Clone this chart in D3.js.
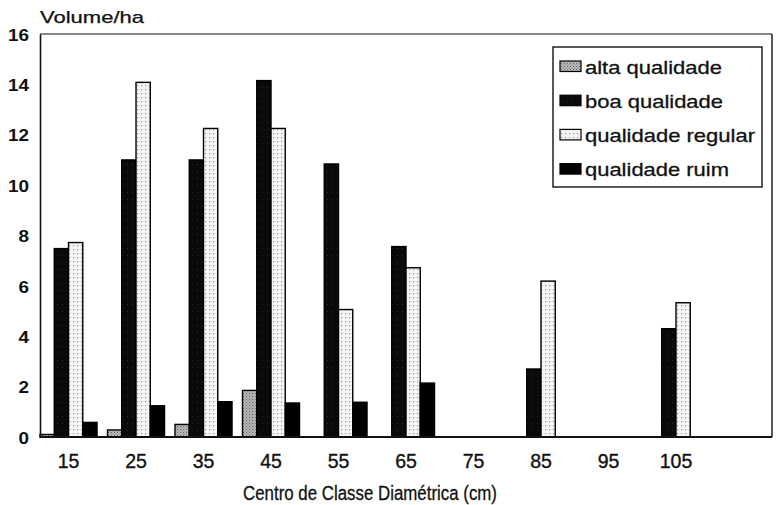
<!DOCTYPE html>
<html><head><meta charset="utf-8">
<script src="https://cdn.jsdelivr.net/npm/d3@7"></script>
<style>body{margin:0;background:#fff}svg{display:block}text{font-family:"Liberation Sans",Arial,sans-serif}</style>
</head><body><svg id="c" width="776" height="505"></svg>
<script>
const categories = ["15","25","35","45","55","65","75","85","95","105"];
const seriesNames = ["alta qualidade","boa qualidade","qualidade regular","qualidade ruim"];
const alta    = [0.1, 0.28, 0.5, 1.85, 0, 0, 0, 0, 0, 0];
const boa     = [7.48, 11.0, 11.0, 14.15, 10.84, 7.56, 0, 2.7, 0, 4.3];
const regular = [7.72, 14.08, 12.25, 12.25, 5.06, 6.72, 0, 6.19, 0, 5.33];
const ruim    = [0.58, 1.24, 1.4, 1.35, 1.38, 2.14, 0, 0, 0, 0];
const yTicks = [0,2,4,6,8,10,12,14,16];
const seriesValues = [alta, boa, regular, ruim];

const svg = d3.select("#c");
const L = 40, R = 772, T = 34, B = 437;
const defs = svg.append("defs");
const pA = defs.append("pattern").attr("id","pAlta").attr("width",3).attr("height",3).attr("patternUnits","userSpaceOnUse");
pA.append("rect").attr("width",3).attr("height",3).attr("fill","#b8b8b8");
pA.append("rect").attr("x",0).attr("y",0).attr("width",1).attr("height",1).attr("fill","#666");
pA.append("rect").attr("x",1.5).attr("y",1.5).attr("width",1).attr("height",1).attr("fill","#777");
const pB = defs.append("pattern").attr("id","pBoa").attr("width",5).attr("height",7).attr("patternUnits","userSpaceOnUse");
pB.append("rect").attr("width",5).attr("height",7).attr("fill","#0a0a0a");
pB.append("rect").attr("x",2).attr("y",3).attr("width",1).attr("height",1).attr("fill","#2a2a2a");
const pR = defs.append("pattern").attr("id","pReg").attr("width",4).attr("height",4).attr("patternUnits","userSpaceOnUse");
pR.append("rect").attr("width",4).attr("height",4).attr("fill","#f4f4f4");
pR.append("rect").attr("x",1).attr("y",1).attr("width",1.2).attr("height",1.2).attr("fill","#9a9a9a");
const fills = ["url(#pAlta)","url(#pBoa)","url(#pReg)","#000"];

const p = 0.155;
const step = (R - L) / (categories.length + 1 - p);
const x = d3.scaleBand().domain(categories).range([L, L + step*(categories.length - p)]).paddingInner(p).paddingOuter(0);
const xs = d3.scaleBand().domain(d3.range(seriesNames.length)).range([0, x.bandwidth()]);
const y = d3.scaleLinear().domain([0,16]).range([B, T]);

categories.forEach((c,i)=>{
  seriesValues.forEach((vals,s)=>{
    const v = vals[i];
    if (v <= 0) return;
    svg.append("rect")
      .attr("x", x(c) + xs(s)).attr("y", y(v))
      .attr("width", xs.bandwidth()).attr("height", y(0) - y(v))
      .attr("fill", fills[s]).attr("stroke","#000").attr("stroke-width",1.4);
  });
});

svg.append("line").attr("x1",L).attr("x2",R).attr("y1",T).attr("y2",T).attr("stroke","#111").attr("stroke-width",1.2);
svg.append("line").attr("x1",R).attr("x2",R).attr("y1",T).attr("y2",B).attr("stroke","#111").attr("stroke-width",1.4);
const yAxis = svg.append("g").attr("transform",`translate(${L},0)`).call(d3.axisLeft(y).tickValues(yTicks).tickSize(0).tickPadding(11));
yAxis.select(".domain").attr("stroke","#111").attr("stroke-width",1.6);
yAxis.selectAll("text").attr("font-size",17).attr("font-weight","bold").attr("fill","#111").attr("dy","0.36em")
  .attr("textLength",d=>String(d).length*10.5).attr("lengthAdjust","spacingAndGlyphs");
const xAxis = svg.append("g").attr("transform",`translate(0,${B})`).call(d3.axisBottom(x).tickSize(0).tickPadding(17));
xAxis.select(".domain").remove();
svg.append("line").attr("x1",L).attr("x2",R).attr("y1",B).attr("y2",B).attr("stroke","#111").attr("stroke-width",2);
xAxis.selectAll("text").attr("font-size",19.5).attr("fill","#111").attr("stroke","#111").attr("stroke-width",0.35);

svg.append("text").attr("x",40).attr("y",23).attr("font-size",17).attr("fill","#111").attr("stroke","#111").attr("stroke-width",0.25)
  .attr("textLength",104).attr("lengthAdjust","spacingAndGlyphs").text("Volume/ha");
svg.append("text").attr("x",243).attr("y",500).attr("font-size",20.5).attr("fill","#111").attr("stroke","#111").attr("stroke-width",0.3)
  .attr("textLength",254).attr("lengthAdjust","spacingAndGlyphs").text("Centro de Classe Diamétrica (cm)");

const lg = svg.append("g");
lg.append("rect").attr("x",553).attr("y",47).attr("width",209).attr("height",140).attr("fill","#fff").attr("stroke","#111").attr("stroke-width",1.4);
const lw = [137,138,170,144];
seriesNames.forEach((n,i)=>{
  const ry = 61 + i*34.2;
  lg.append("rect").attr("x",560).attr("y",ry).attr("width",21).attr("height",10.5).attr("fill",fills[i]).attr("stroke","#000").attr("stroke-width",1.2);
  lg.append("text").attr("x",585).attr("y",ry+12.5).attr("font-size",18.5).attr("fill","#111").attr("stroke","#111").attr("stroke-width",0.3)
    .attr("textLength",lw[i]).attr("lengthAdjust","spacingAndGlyphs").text(n);
});
</script></body></html>
